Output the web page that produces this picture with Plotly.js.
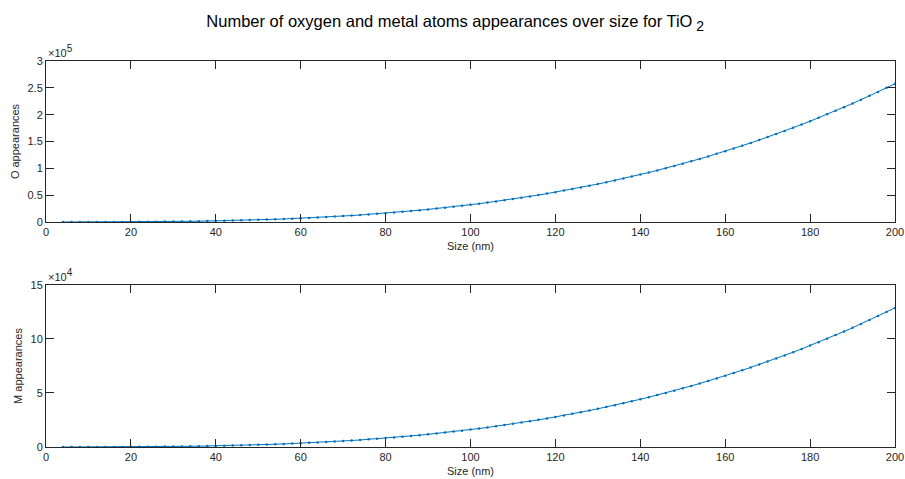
<!DOCTYPE html>
<html>
<head>
<meta charset="utf-8">
<script src="https://cdn.plot.ly/plotly-3.0.1.min.js"></script>
<style>html,body{margin:0;padding:0;background:#fff;}#chart{width:905px;height:479px;}</style>
</head>
<body>
<div id="chart"></div>
<script>
// Size (nm)
const sizeNm = [4,6,8,10,12,14,16,18,20,22,24,26,28,30,32,34,36,38,40,42,44,46,48,50,52,54,56,58,60,62,64,66,68,70,72,74,76,78,80,82,84,86,88,90,92,94,96,98,100,102,104,106,108,110,112,114,116,118,120,122,124,126,128,130,132,134,136,138,140,142,144,146,148,150,152,154,156,158,160,162,164,166,168,170,172,174,176,178,180,182,184,186,188,190,192,194,196,198,200];
// O appearances
const oAppearances = [2,7,16,32,56,88,132,188,258,343,445,566,707,869,1055,1266,1502,1767,2061,2386,2743,3134,3561,4025,4528,5070,5655,6283,6955,7674,8441,9257,10125,11045,12019,13048,14135,15281,16486,17754,19085,20481,21943,23474,25074,26745,28489,30306,32200,34171,36221,38351,40563,42858,45239,47706,50261,52906,55642,58470,61393,64412,67528,70743,74059,77477,80998,84624,88357,92198,96149,100211,104386,108675,113080,117603,122245,127007,131891,136899,142032,147292,152681,158199,163848,169630,175547,181600,187790,194120,200590,207202,213958,220860,227908,235105,242451,249949,257600];
// M appearances
const mAppearances = [1,3,8,16,28,44,66,94,129,171,223,283,353,435,528,633,751,883,1030,1193,1371,1567,1781,2013,2264,2535,2827,3141,3478,3837,4220,4629,5062,5522,6009,6524,7068,7640,8243,8877,9543,10240,10972,11737,12537,13372,14244,15153,16100,17085,18110,19175,20281,21429,22619,23853,25130,26453,27821,29235,30697,32206,33764,35372,37030,38738,40499,42312,44178,46099,48074,50105,52193,54338,56540,58801,61122,63503,65946,68450,71016,73646,76340,79099,81924,84815,87774,90800,93895,97060,100295,103601,106979,110430,113954,117552,121226,124975,128800];

const xTickVals = [0,20,40,60,80,100,120,140,160,180,200];
const oTickVals = [0,50000,100000,150000,200000,250000,300000];
const oTickText = ['0','0.5','1','1.5','2','2.5','3'];
const mTickVals = [0,50000,100000,150000];
const mTickText = ['0','5','10','15'];

const titleText = "Number of oxygen and metal atoms appearances over size for TiO<sub><span style='font-size:14px'> 2</span></sub>";
const oLabel = 'O appearances';
const mLabel = 'M appearances';
const xLabel = 'Size (nm)';

const lineColor = '#0072BD';
const axisColor = '#262626';
const fontFam = 'Liberation Sans, Arial, Helvetica, sans-serif';

const traceStyle = {
  type: 'scatter', mode: 'lines+markers',
  line: {color: lineColor, width: 1},
  marker: {color: lineColor, size: 2.5},
  showlegend: false, hoverinfo: 'x+y'
};

const data = [
  Object.assign({x: sizeNm, y: oAppearances, xaxis: 'x', yaxis: 'y'}, traceStyle),
  Object.assign({x: sizeNm, y: mAppearances, xaxis: 'x2', yaxis: 'y2'}, traceStyle)
];

function xAxis() {
  return {
    range: [0, 200], tickvals: xTickVals, ticks: 'inside', ticklen: 8, tickwidth: 1,
    tickcolor: axisColor, showline: true, linecolor: axisColor, linewidth: 1, mirror: 'ticks',
    showgrid: false, zeroline: false, fixedrange: true,
    tickfont: {family: fontFam, size: 11, color: axisColor},
    title: {text: xLabel, font: {family: fontFam, size: 11, color: axisColor}, standoff: 5},
    automargin: false
  };
}
function yAxis(domain, range, vals, text, label) {
  return {
    domain: domain, range: range, tickvals: vals, ticktext: text, ticks: 'inside', ticklen: 8, tickwidth: 1,
    tickcolor: axisColor, showline: true, linecolor: axisColor, linewidth: 1, mirror: 'ticks',
    showgrid: false, zeroline: false, fixedrange: true,
    tickfont: {family: fontFam, size: 11, color: axisColor},
    title: {text: label, font: {family: fontFam, size: 11, color: axisColor}, standoff: 5},
    automargin: false
  };
}

const layout = {
  width: 905, height: 479,
  paper_bgcolor: '#fff', plot_bgcolor: '#fff',
  margin: {l: 46, r: 10, t: 61, b: 32},
  font: {family: fontFam, color: axisColor},
  title: {text: titleText, x: 0.503, xref: 'container', y: 0.955, yref: 'container', yanchor: 'middle',
          font: {family: fontFam, size: 16.5, color: '#000'}},
  xaxis: Object.assign(xAxis(), {anchor: 'y'}),
  yaxis: Object.assign(yAxis([0.5829, 1], [0, 300000], oTickVals, oTickText, oLabel), {anchor: 'x'}),
  xaxis2: Object.assign(xAxis(), {anchor: 'y2'}),
  yaxis2: Object.assign(yAxis([0, 0.4197], [0, 150000], mTickVals, mTickText, mLabel), {anchor: 'x2'}),
  annotations: [
    {text: "×10<sup><span style='font-size:10px'>5</span></sup>", xref: 'paper', yref: 'paper', x: 0, y: 1.0, xanchor: 'left', yanchor: 'bottom',
     showarrow: false, font: {family: fontFam, size: 11, color: axisColor}},
    {text: "×10<sup><span style='font-size:10px'>4</span></sup>", xref: 'paper', yref: 'paper', x: 0, y: 0.4197, xanchor: 'left', yanchor: 'bottom',
     showarrow: false, font: {family: fontFam, size: 11, color: axisColor}}
  ]
};

Plotly.newPlot('chart', data, layout, {displayModeBar: false, staticPlot: true});
</script>
</body>
</html>
